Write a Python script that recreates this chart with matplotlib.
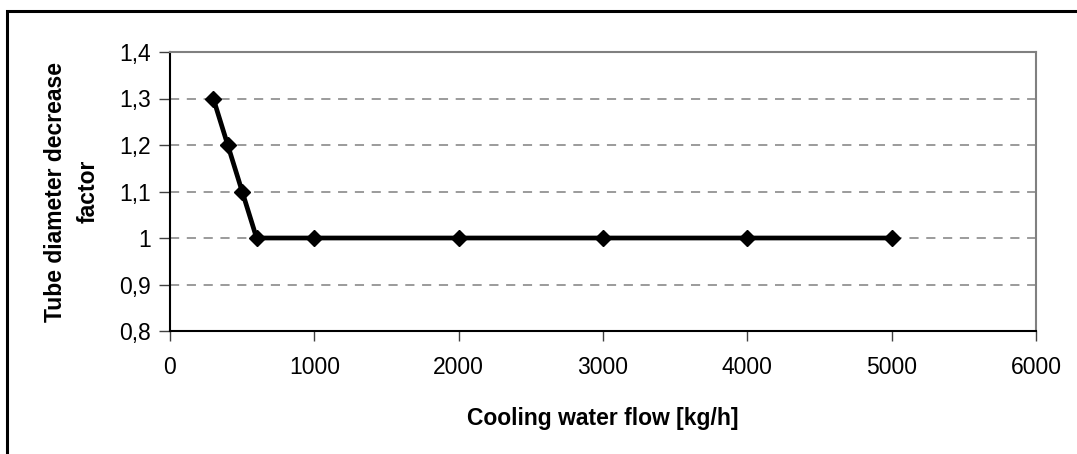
#! /usr/bin/env python3

import matplotlib
matplotlib.use("Agg")
import matplotlib.pyplot as plt
from matplotlib.patches import Rectangle
from matplotlib.ticker import FuncFormatter

# cooling water flow [kg/h] and the matching tube diameter decrease factor
flow   = [300, 400, 500, 600, 1000, 2000, 3000, 4000, 5000]
factor = [1.3, 1.2, 1.1, 1.0, 1.0, 1.0, 1.0, 1.0, 1.0]

x_ticks = [0, 1000, 2000, 3000, 4000, 5000, 6000]
y_ticks = [0.8, 0.9, 1.0, 1.1, 1.2, 1.3, 1.4]

plt.rcParams["font.family"] = ["Liberation Sans", "DejaVu Sans"]

fig = plt.figure(figsize=(10.77, 4.54), dpi=100)
ax  = fig.add_axes([170 / 1077, 1 - 331 / 454, 866 / 1077, 279 / 454])

# outer chart frame (right and bottom run off the picture)
fig.patches.append(Rectangle((7 / 1077, -0.05), 1.2, 1 - 11 / 454 + 0.05,
                             transform=fig.transFigure, fill=False,
                             edgecolor="black", linewidth=2.2))

ax.plot(flow, factor, "-D", color="black", linewidth=3.4,
        markersize=8.5, markerfacecolor="black", zorder=3)

ax.set_xlim(0, 6000)
ax.set_ylim(0.8, 1.4)
ax.set_xticks(x_ticks)
ax.set_yticks(y_ticks)

def comma(v, _):
    s = ("%.1f" % v).replace(".", ",")
    return "1" if s == "1,0" else s

ax.yaxis.set_major_formatter(FuncFormatter(comma))

for y in y_ticks[1:-1]:
    ax.axhline(y, color="#808080", linewidth=1.1, dashes=(6, 5), zorder=1)

ax.spines["left"].set_color("black")
ax.spines["bottom"].set_color("black")
ax.spines["top"].set_color("#808080")
ax.spines["right"].set_color("#808080")
for s in ax.spines.values():
    s.set_linewidth(1.5)

ax.tick_params(axis="both", labelsize=16.5, width=1, color="#404040")
ax.tick_params(axis="y", direction="out", length=8, pad=6)
ax.tick_params(axis="x", direction="out", length=7, pad=11)

ax.set_xlabel("Cooling water flow [kg/h]", fontsize=16.5, fontweight="bold", labelpad=20)
ax.set_ylabel("Tube diameter decrease\nfactor", fontsize=16.5, fontweight="bold",
              labelpad=14, linespacing=1.5)

fig.savefig("out.png", dpi=100)
